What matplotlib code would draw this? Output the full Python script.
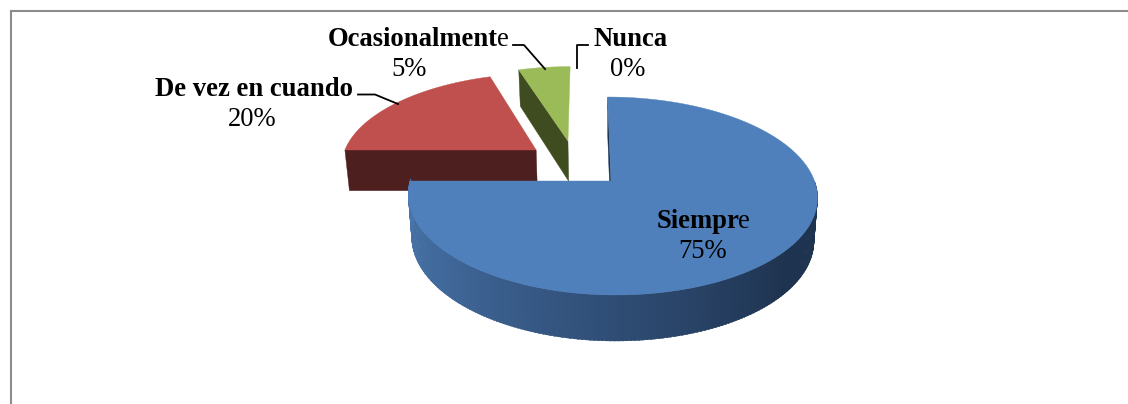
import numpy as np
import matplotlib
matplotlib.use('Agg')
import matplotlib.pyplot as plt
from matplotlib.patches import Polygon

labels = ['Siempre', 'De vez en cuando', 'Ocasionalmente', 'Nunca']
values = [75, 20, 5, 0]
pct_labels = ['75%', '20%', '5%', '0%']

# offsets of each slice on the pie plane (u right, v towards viewer)
offsets = [(0, 0), (-0.385, -0.337), (-0.22, -0.441), (0, 0)]
top_colors = ['#4f80bc', '#c0504d', '#9bbb59', '#000000']
wall_colors = ['#1d3350', '#4e1f1f', '#3f4c20', '#000000']

W, H = 1128, 404
CX, CY = 611, 181
A, K = 96.7, 0.1515
B_LEFT, B_RIGHT = 201, 203.5

plt.rcParams['font.family'] = ['Liberation Serif', 'DejaVu Serif']
FS = 19.2

fig = plt.figure(figsize=(W / 100, H / 100), dpi=100)
ax = fig.add_axes([0, 0, 1, 1])
ax.set_xlim(0, W)
ax.set_ylim(H, 0)
ax.axis('off')


def project(u, v, z=0):
    # perspective of the tilted pie; z=1 is the bottom face
    d = 1 - K * v
    x = np.where(np.asarray(u) < 0, B_LEFT, B_RIGHT) * u / d
    y = A * v / d
    x = x + 0.04 * y
    if z:
        x = x * 0.983
        y = y + 42 + 4 * v
    return CX + x, CY + y


def rim(t0, t1, off, z=0, n=120):
    t = np.radians(np.linspace(t0, t1, n))
    return project(off[0] + np.sin(t), off[1] - np.cos(t), z)


def poly(xs, ys, color, zo):
    ax.add_patch(Polygon(np.column_stack([xs, ys]), closed=True, fc=color, ec=color, lw=0.3, zorder=zo))


# clockwise from 12 o'clock
edges = np.concatenate([[0], np.cumsum(values)]) * 3.6

# red and green slices
for i in [1, 2]:
    t0, t1 = edges[i], edges[i + 1]
    off = offsets[i]
    ax0, ay0 = project(off[0], off[1])
    bx0, by0 = project(off[0], off[1], 1)
    ex, ey = project(off[0] + np.sin(np.radians(t0)), off[1] - np.cos(np.radians(t0)))
    fx, fy = project(off[0] + np.sin(np.radians(t0)), off[1] - np.cos(np.radians(t0)), 1)
    poly([ex, ax0, bx0, fx], [ey, ay0, by0, fy], wall_colors[i], 2)
    xs, ys = rim(t0, t1, off)
    poly(np.r_[ax0, xs], np.r_[ay0, ys], top_colors[i], 3)

# blue slice: inner wall, shaded rim, top
t0, t1 = edges[0], edges[1]
off = offsets[0]
tx, ty = project(0, -1)
ax0, ay0 = project(0, 0)
bx0, by0 = project(0, 0, 1)
ux, uy = project(0, -1, 1)
poly([tx, ax0, bx0, ux], [ty, ay0, by0, uy], wall_colors[0], 4)

shade_t = [90, 130, 180, 225, 270]
shade_c = np.array([[0x1d, 0x33, 0x50], [0x1e, 0x33, 0x4f], [0x2f, 0x4d, 0x75], [0x3f, 0x66, 0x97], [0x4a, 0x77, 0xae]]) / 255
tt = np.arange(90, 270.5, 1.0)
for a in tt:
    x1, y1 = rim(a, a + 1.5, off, 0, 3)
    x2, y2 = rim(a, a + 1.5, off, 1, 3)
    c = [np.interp(a, shade_t, shade_c[:, i]) for i in range(3)]
    poly(np.r_[x1, x2[::-1]], np.r_[y1, y2[::-1]], c, 5)
xs, ys = rim(t0, t1, off, 0, 400)
poly(np.r_[ax0, xs], np.r_[ay0, ys], top_colors[0], 6)


def bold_regular(x, y, s):
    # last letter comes out regular in the original
    t = ax.text(x, y, s[:-1], fontsize=FS, fontweight='bold', ha='left', va='center', zorder=8)
    bb = t.get_window_extent(fig.canvas.get_renderer())
    ax.text(bb.x1 - 1.5, y, s[-1], fontsize=FS, ha='left', va='center', zorder=8)


bold_regular(657, 221, labels[0])
ax.text(703, 251, pct_labels[0], fontsize=FS, ha='center', va='center', zorder=8)
ax.text(155, 89, labels[1], fontsize=FS, fontweight='bold', ha='left', va='center', zorder=8)
ax.text(252, 119, pct_labels[1], fontsize=FS, ha='center', va='center', zorder=8)
bold_regular(328, 39, labels[2])
ax.text(409, 69, pct_labels[2], fontsize=FS, ha='center', va='center', zorder=8)
ax.text(593, 39, labels[3], fontsize=FS, fontweight='bold', ha='left', va='center', zorder=8)
ax.text(628, 69, pct_labels[3], fontsize=FS, ha='center', va='center', zorder=8)

# leader lines
ax.plot([358, 375, 398], [94.5, 94.5, 104], color='k', lw=1.3, zorder=7)
ax.plot([513, 524, 545], [45, 45, 69], color='k', lw=1.3, zorder=7)
ax.plot([588, 577, 577], [45, 45, 68], color='k', lw=1.3, zorder=7)

# frame, open on the right
ax.plot([11, 11], [404, 11], color='#8c8c8c', lw=1.5, solid_capstyle='projecting', zorder=1)
ax.plot([11, 1128], [11, 11], color='#8c8c8c', lw=1.5, solid_capstyle='projecting', zorder=1)

fig.savefig('out.png', dpi=100)
